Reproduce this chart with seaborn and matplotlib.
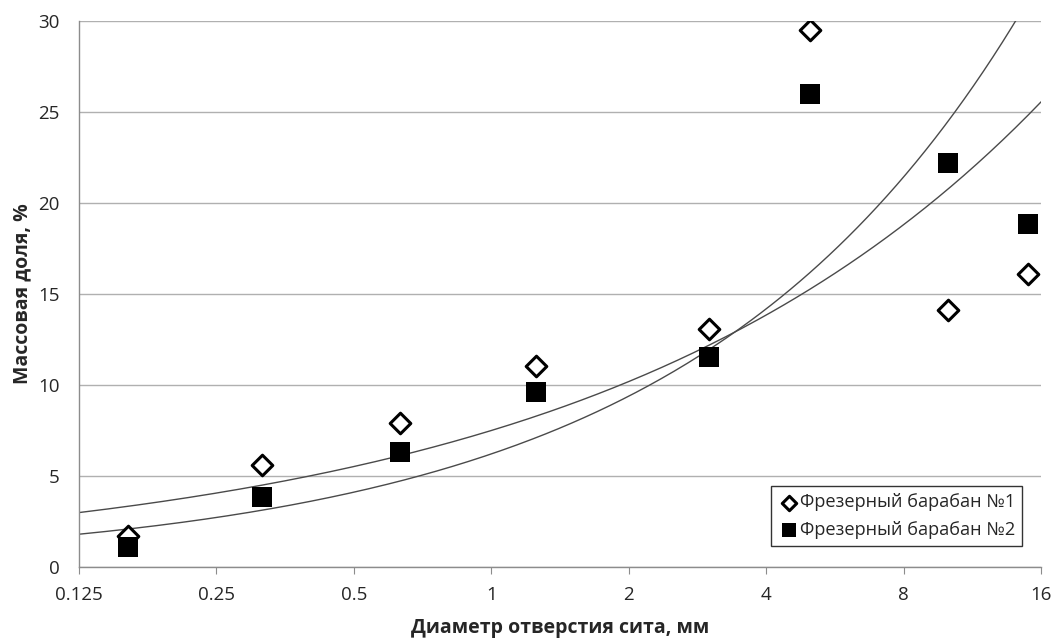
import numpy as np
import pandas as pd
import matplotlib
matplotlib.use("Agg")
import matplotlib.pyplot as plt
import seaborn as sns

# sieve hole diameter, mm
diameter = [0.16, 0.315, 0.63, 1.25, 3.0, 5.0, 10.0, 15.0]
# mass fraction, %
drum1 = [1.7, 5.6, 7.9, 11.05, 13.1, 29.5, 14.1, 16.1]
drum2 = [1.1, 3.85, 6.3, 9.6, 11.55, 26.0, 22.2, 18.85]

label1 = "Фрезерный барабан №1"
label2 = "Фрезерный барабан №2"
x_ticks = [0.125, 0.25, 0.5, 1, 2, 4, 8, 16]
x_ticklabels = ["0.125", "0.25", "0.5", "1", "2", "4", "8", "16"]

sns.set_style("white")
plt.rcParams['font.family'] = ['Open Sans', 'DejaVu Sans']

fig = plt.figure(figsize=(10.57, 6.39), dpi=100)
ax = fig.add_axes([0.0747, 0.1127, 0.9103, 0.8545])

# power trend lines (like Excel), fitted in log-log space
xs = np.geomspace(0.125, 16, 300)
for ys in (drum1, drum2):
    b, lna = np.polyfit(np.log(diameter), np.log(ys), 1)
    sns.lineplot(x=xs, y=np.exp(lna) * xs ** b, ax=ax, color="#4a4a4a", lw=1)

df = pd.DataFrame({"x": diameter, "y1": drum1, "y2": drum2})
sns.scatterplot(data=df, x="x", y="y1", ax=ax, marker="D", s=110,
                facecolor="white", edgecolor="black", linewidth=2.2,
                label=label1, zorder=5)
sns.scatterplot(data=df, x="x", y="y2", ax=ax, marker="s", s=190,
                color="black", edgecolor="black", linewidth=0,
                label=label2, zorder=5)

ax.set_xscale("log", base=2)
ax.set_xlim(0.125, 16)
ax.set_ylim(0, 30)
ax.set_xticks(x_ticks)
ax.set_xticklabels(x_ticklabels)
ax.minorticks_off()
ax.set_yticks(range(0, 31, 5))
ax.yaxis.grid(True, color="#b0b0b0", lw=1)
ax.set_axisbelow(True)

for side in ("top", "right"):
    ax.spines[side].set_visible(False)
for side in ("left", "bottom"):
    ax.spines[side].set_color("#8c8c8c")
    ax.spines[side].set_linewidth(1)

ax.tick_params(axis="x", length=5, color="#8c8c8c", direction="out",
               labelsize=13.5, pad=9, bottom=True)
ax.tick_params(axis="y", length=0, labelsize=13.5, pad=14)

ax.set_xlabel("Диаметр отверстия сита, мм", fontsize=14, fontweight="bold", labelpad=10)
ax.set_ylabel("Массовая доля, %", fontsize=14, fontweight="bold", labelpad=4)

leg = ax.legend(loc="lower right", bbox_to_anchor=(0.99, 0.022), frameon=True,
                fancybox=False, edgecolor="black", fontsize=13.1, markerscale=0.7,
                handletextpad=0.0, borderpad=0.4, labelspacing=0.5, handlelength=1.2)
leg.get_frame().set_linewidth(1)

fig.savefig("out.png", dpi=100)
